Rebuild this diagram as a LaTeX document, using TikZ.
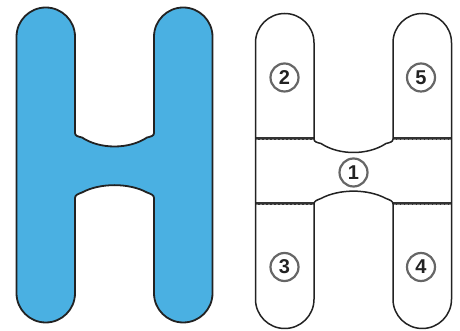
\documentclass[tikz,border=0pt]{standalone}
\usepackage{fontspec}
\setmainfont{Liberation Sans}
\definecolor{hblue}{RGB}{74,176,226}
\definecolor{outl}{RGB}{34,34,34}
\begin{document}
\begin{tikzpicture}[x=1pt,y=1pt,
  hshape/.style={draw=outl,line width=1.8pt,line join=round},
  seam/.style={draw=black!80,line width=3pt},
  seamdash/.style={draw=black!50,line width=0.4pt,dash pattern=on 2.5pt off 1.5pt},
  numc/.style={circle,draw=black!60,line width=2.2pt,minimum size=28pt,inner sep=0pt,
    font=\bfseries\fontsize{20}{20}\selectfont,text=outl}]
\useasboundingbox (0,0) rectangle (460,331);
\def\Hpath{(16.5,294.25) arc[start angle=180,end angle=0,radius=29.25]
  -- (75,198) .. controls (75,195) and (78,194.5) .. (82,193.5)
  .. controls (100,181.5) and (129,181.5) .. (147,193.5)
  .. controls (151,194.5) and (154,195) .. (154,198)
  -- (154,294.25) arc[start angle=180,end angle=0,radius=29.25]
  -- (212.5,37.75) arc[start angle=0,end angle=-180,radius=29.25]
  -- (154,133) .. controls (154,136) and (151,137) .. (147,138.5)
  .. controls (129,148.3) and (100,148.3) .. (82,138.5)
  .. controls (78,137) and (75,136) .. (75,133)
  -- (75,37.75) arc[start angle=0,end angle=-180,radius=29.25] -- cycle}
% left H
\path[hshape,fill=hblue] \Hpath;
% right H
\begin{scope}[shift={(239,-6)}]
  \coordinate (s1a) at (16.5,198); \coordinate (s1b) at (75,198);
  \coordinate (s2a) at (154,198); \coordinate (s2b) at (212.5,198);
  \coordinate (s3a) at (16.5,133); \coordinate (s3b) at (75,133);
  \coordinate (s4a) at (154,133); \coordinate (s4b) at (212.5,133);
  \foreach \a/\b in {s1a/s1b,s2a/s2b,s3a/s3b,s4a/s4b}{
    \draw[seam] (\a) -- (\b);
    \draw[seamdash] (\a) -- (\b);
  }
  \path[hshape,line width=1.5pt] \Hpath;
\end{scope}
\node[numc] (n1) at (353.5,158.5) {1};
\node[numc] (n2) at (284.5,253.5) {2};
\node[numc] (n5) at (421,253.5) {5};
\node[numc] (n3) at (284.5,64) {3};
\node[numc] (n4) at (421,64) {4};
\end{tikzpicture}
\end{document}
